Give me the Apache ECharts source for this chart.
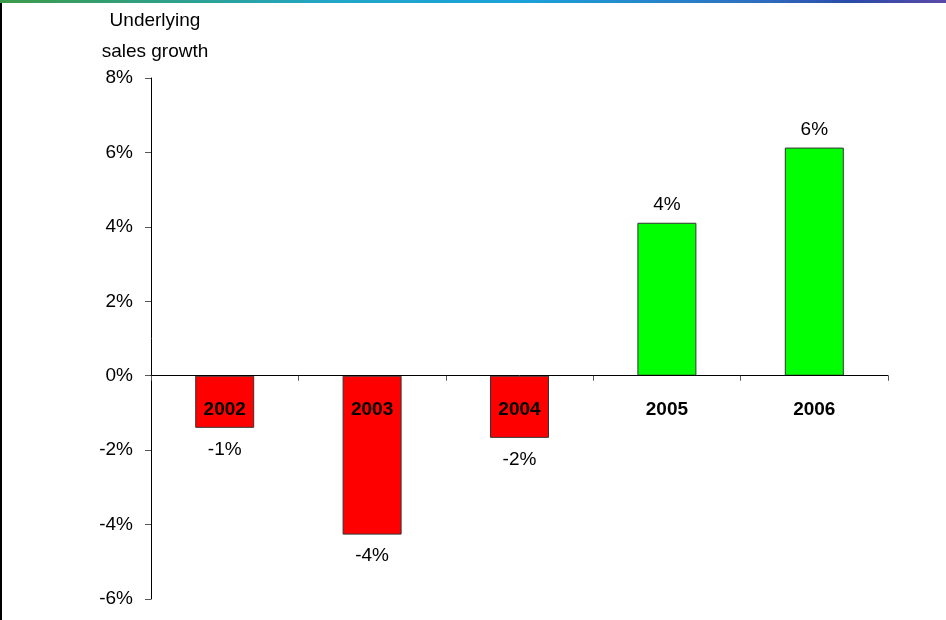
<!DOCTYPE html>
<html>
<head>
<meta charset="utf-8">
<script src="https://cdn.jsdelivr.net/npm/echarts@6/dist/echarts.min.js"></script>
<style>
html,body{margin:0;padding:0;background:#fff;}
#chart{width:946px;height:620px;}
</style>
</head>
<body>
<div id="chart"></div>
<script>
const categories = ['2002', '2003', '2004', '2005', '2006'];
const growth = [-1.4, -4.27, -1.67, 4.11, 6.13];
const yTicks = { min: -6, max: 8, interval: 2 };
const axisTitle = 'Underlying\nsales growth';

const chart = echarts.init(document.getElementById('chart'));
const FONT = 'Liberation Sans, Arial, sans-serif';
const GRID = { left: 151, right: 58, top: 78, bottom: 21 };
const gridH = 620 - GRID.top - GRID.bottom;
const zeroOffset = gridH * (0 - yTicks.min) / (yTicks.max - yTicks.min);

chart.setOption({
  animation: false,
  backgroundColor: '#fff',
  graphic: [
    {
      type: 'rect', left: 0, top: 0, z: 100,
      shape: { width: 946, height: 3 },
      style: {
        fill: new echarts.graphic.LinearGradient(0, 0, 1, 0, [
          { offset: 0, color: '#3c9a48' },
          { offset: 0.35, color: '#22a6c8' },
          { offset: 0.55, color: '#1aa2da' },
          { offset: 0.8, color: '#2f6fc0' },
          { offset: 0.9, color: '#2a4aa8' },
          { offset: 1, color: '#5a4aa8' }
        ])
      }
    },
    {
      type: 'rect', left: 0, top: 3, z: 100,
      shape: { width: 2, height: 617 },
      style: { fill: '#000' }
    },
    {
      type: 'text', z: 100,
      x: 155, y: 5,
      style: {
        text: axisTitle, font: '19px ' + FONT, fill: '#000',
        align: 'center', verticalAlign: 'top', lineHeight: 31
      }
    }
  ],
  grid: Object.assign({ containLabel: false, outerBoundsMode: 'none' }, GRID),
  xAxis: {
    type: 'category',
    data: categories,
    z: 10,
    position: 'bottom',
    offset: -zeroOffset,
    axisLine: { onZero: false, lineStyle: { color: '#000', width: 1 } },
    axisTick: { show: true, alignWithLabel: false, length: 5, lineStyle: { color: '#555' } },
    axisLabel: {
      fontFamily: FONT, fontSize: 19, fontWeight: 'bold', color: '#000',
      margin: 25
    },
    splitLine: { show: false }
  },
  yAxis: {
    type: 'value',
    min: yTicks.min, max: yTicks.max, interval: yTicks.interval,
    axisLine: { show: true, lineStyle: { color: '#000', width: 1 } },
    axisTick: { show: true, length: 6, lineStyle: { color: '#555' } },
    axisLabel: {
      fontFamily: FONT, fontSize: 19, color: '#000', margin: 18,
      formatter: v => v + '%'
    },
    splitLine: { show: false }
  },
  series: [{
    type: 'bar',
    data: growth.map(v => ({
      value: v,
      itemStyle: { color: v < 0 ? '#ff0000' : '#00ff00', borderColor: '#333', borderWidth: 1 },
      label: { position: v < 0 ? 'bottom' : 'top', distance: v < 0 ? 12 : 8 }
    })),
    barWidth: 59,
    z: 2,
    label: {
      show: true,
      fontFamily: FONT, fontSize: 19, color: '#000',
      formatter: p => Math.round(p.value) + '%'
    }
  }]
});
</script>
</body>
</html>
